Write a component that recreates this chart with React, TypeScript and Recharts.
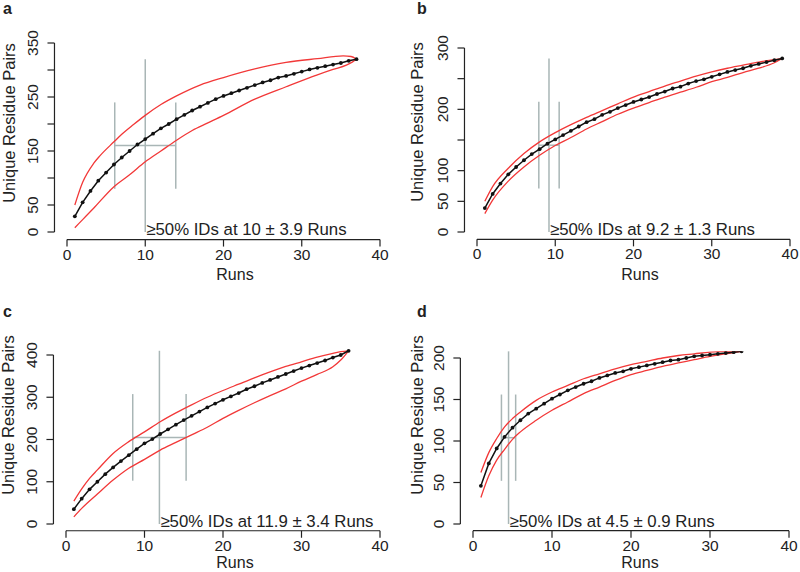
import { LineChart, Line, XAxis, YAxis, ReferenceLine, Label } from "recharts";

// mean curves, one value per run (run = index + 1)
const meanA = [29, 55, 76, 95, 110, 125, 138, 150, 162, 172, 182, 192, 200, 209, 217, 225, 232, 239, 246, 252, 257, 262, 267, 272, 277, 281, 286, 289, 293, 297, 301, 304, 307, 310, 313, 317, 320];
const meanB = [39, 62, 79, 94, 106, 117, 127, 135, 144, 151, 158, 165, 172, 179, 184, 191, 196, 202, 207, 212, 216, 220, 225, 229, 234, 237, 242, 246, 249, 253, 257, 261, 264, 267, 271, 274, 277, 280, 283];
const meanC = [35, 60, 82, 100, 118, 134, 149, 163, 177, 191, 201, 213, 224, 235, 246, 256, 266, 276, 285, 294, 302, 310, 319, 326, 334, 341, 348, 355, 362, 369, 375, 381, 387, 394, 400, 410];
const meanD = [46, 73, 91, 105, 116, 125, 133, 139, 145, 151, 156, 161, 165, 169, 172, 176, 179, 182, 184, 187, 189, 191, 193, 195, 197, 198, 200, 202, 203, 204, 205, 206, 207, 208];

// red envelopes, [run, pairs]
const upperA = [[1, 50], [2, 92], [3.4, 127], [4.2, 141], [6, 167], [7, 181], [8.5, 199], [10, 216], [12, 236], [14, 252], [17, 272], [20, 286], [24, 302], [28, 314], [32, 321], [35.3, 326], [36.3, 325], [37, 320]];
const lowerA = [[1, 8], [2, 23], [3.4, 44], [6, 84], [8, 106], [10, 130], [12, 150], [14, 170], [16, 188], [18, 202], [20, 216], [24, 246], [28, 269], [32, 291], [34, 301], [35.7, 309], [36.5, 315], [37, 320]];
const upperB = [[1, 50], [2, 74], [4, 104], [6, 128], [8, 147], [10, 162], [12, 175], [14, 187], [16, 198], [18, 209], [20, 220], [22, 229], [24, 238], [26, 246], [28, 254], [30, 261], [32, 267], [34, 272], [36, 277], [38, 281], [39, 283]];
const lowerB = [[1, 30], [2, 52], [4, 83], [6, 106], [8, 125], [10, 141], [12, 154], [14, 168], [16, 180], [18, 192], [20, 202], [22, 211], [24, 220], [26, 228], [28, 236], [30, 245], [32, 252], [34, 260], [36, 267], [38, 276], [39, 283]];
const upperC = [[1, 54], [2, 83], [3, 108], [4, 128], [6, 167], [8, 195], [10, 218], [12, 242], [14, 263], [16, 282], [18, 300], [20, 316], [22, 331], [24, 346], [26, 360], [28, 373], [30, 384], [32, 395], [34, 404], [35, 408], [36, 410]];
const lowerC = [[1, 17], [2, 37], [4, 71], [6, 104], [8, 132], [10, 153], [12, 175], [14, 193], [16, 211], [18, 229], [20, 250], [22, 269], [24, 287], [26, 304], [28, 320], [30, 338], [32, 354], [34, 372], [35, 388], [36, 410]];
const upperD = [[1, 62], [2, 86], [3, 103], [4, 117], [5, 127], [6, 135], [8, 149], [10, 159], [12, 167], [14, 175], [16, 181], [18, 187], [20, 192], [22, 196], [24, 200], [26, 203], [28, 205], [30, 207], [32, 208], [34, 208]];
const lowerD = [[1, 32], [2, 58], [3, 77], [4, 90], [5, 102], [6, 111], [8, 125], [10, 137], [12, 147], [14, 157], [16, 165], [18, 173], [20, 180], [22, 185], [24, 190], [26, 194], [28, 198], [30, 202], [32, 205], [34, 208]];

const letters = ["a", "b", "c", "d"];
const medianRuns = [10, 9.2, 11.9, 4.5];
const spreadRuns = [3.9, 1.3, 3.4, 0.9];
const maxPairs = [320, 283, 410, 208];
const xTicks = [0, 10, 20, 30, 40];
const yTicks = [
  [0, 50, 100, 150, 200, 250, 300, 350],
  [0, 50, 100, 150, 200, 250, 300],
  [0, 100, 200, 300, 400],
  [0, 50, 100, 150, 200],
];
const yShown = [
  [0, 50, 150, 250, 350],
  [0, 50, 100, 200, 300],
  [0, 100, 200, 300, 400],
  [0, 50, 100, 150, 200],
];

const means = [meanA, meanB, meanC, meanD];
const uppers = [upperA, upperB, upperC, upperD];
const lowers = [lowerA, lowerB, lowerC, lowerD];

// where each panel sits on the page
const boxes = [
  { left: 0, top: 0, width: 410, height: 285, x0: 67, x40: 380, y0: 232, yTop: 43 },
  { left: 400, top: 0, width: 410, height: 285, x0: 477, x40: 790, y0: 232, yTop: 48 },
  { left: 0, top: 285, width: 410, height: 287, x0: 66, x40: 380, y0: 524, yTop: 355 },
  { left: 400, top: 285, width: 410, height: 287, x0: 473, x40: 789, y0: 524, yTop: 358 },
];
const titles = [
  { letter: [3, 14], ylab: [15, 123], xlab: [235, 280] },
  { letter: [417, 14], ylab: [423, 122], xlab: [640, 280] },
  { letter: [3, 317], ylab: [14, 415], xlab: [235, 568] },
  { letter: [417, 317], ylab: [423, 415], xlab: [640, 568] },
];

const FONT = "'Liberation Sans', Arial, sans-serif";
const INK = "#222";
const RED = "#f23838";
const GREY = "#a9b6b6";
const Y_W = 30;
const X_H = 30;

const toPts = (arr: number[][]) => arr.map(([x, y]) => ({ x, y }));

function YTick(props: any) {
  const { x, y, payload, shown } = props;
  if (!shown.includes(payload.value)) return <g />;
  return (
    <text x={x} y={y} transform={`rotate(-90 ${x} ${y})`} textAnchor="middle" fontSize={15.5} fill={INK} fontFamily={FONT}>
      {payload.value}
    </text>
  );
}

function Panel({ i }: { i: number }) {
  const b = boxes[i];
  const ticks = yTicks[i];
  const yMax = ticks[ticks.length - 1];
  const xs = (b.x40 - b.x0) / 40;
  const ys = (b.y0 - b.yTop) / yMax;
  const plotLeft = b.x0 - 1.6 * xs - b.left;
  const plotRight = b.x0 + 41.6 * xs - b.left;
  const plotTop = b.y0 - 1.04 * yMax * ys - b.top;
  const plotBottom = b.y0 + 0.04 * yMax * ys - b.top;
  const margin = {
    left: plotLeft - Y_W,
    right: b.width - plotRight,
    top: plotTop,
    bottom: b.height - plotBottom - X_H,
  };
  const yMin = -0.04 * yMax;
  const m = medianRuns[i];
  const s = spreadRuns[i];
  const top = maxPairs[i];
  const mean = means[i].map((y, k) => ({ x: k + 1, y }));
  const note = `≥50% IDs at ${m} ± ${s} Runs`;

  return (
    <div style={{ position: "absolute", left: b.left, top: b.top }}>
      <LineChart width={b.width} height={b.height} margin={margin}>
        <XAxis
          type="number"
          dataKey="x"
          domain={[-1.6, 41.6]}
          ticks={xTicks}
          allowDataOverflow
          height={X_H}
          axisLine={false}
          tickSize={7}
          tickMargin={2}
          tickLine={{ stroke: INK, strokeWidth: 1.2 }}
          tick={{ fontSize: 15.5, fill: INK, fontFamily: FONT }}
          interval={0}
        />
        <YAxis
          type="number"
          dataKey="y"
          domain={[yMin, yMax * 1.04]}
          ticks={ticks}
          allowDataOverflow
          width={Y_W}
          axisLine={false}
          tickSize={7}
          tickMargin={9}
          tickLine={{ stroke: INK, strokeWidth: 1.2 }}
          tick={<YTick shown={yShown[i]} />}
          interval={0}
        />
        <ReferenceLine segment={[{ x: 0, y: yMin }, { x: 40, y: yMin }]} stroke={INK} strokeWidth={1.2} ifOverflow="visible" />
        <ReferenceLine segment={[{ x: -1.6, y: 0 }, { x: -1.6, y: yMax }]} stroke={INK} strokeWidth={1.2} ifOverflow="visible" />
        <ReferenceLine segment={[{ x: m - s, y: top * 0.25 }, { x: m - s, y: top * 0.75 }]} stroke={GREY} strokeWidth={1.5} ifOverflow="visible" />
        <ReferenceLine segment={[{ x: m + s, y: top * 0.25 }, { x: m + s, y: top * 0.75 }]} stroke={GREY} strokeWidth={1.5} ifOverflow="visible" />
        <ReferenceLine segment={[{ x: m - s, y: top * 0.5 }, { x: m + s, y: top * 0.5 }]} stroke={GREY} strokeWidth={1.5} ifOverflow="visible" />
        <ReferenceLine segment={[{ x: m, y: 0 }, { x: m, y: top }]} stroke={GREY} strokeWidth={1.5} ifOverflow="visible">
          <Label
            content={(p: any) => {
              const vb = p.viewBox || {};
              return (
                <text x={vb.x + 1} y={vb.y + vb.height + 3} fontSize={16.8} fill={INK} fontFamily={FONT}>
                  {note}
                </text>
              );
            }}
          />
        </ReferenceLine>
        <Line data={toPts(uppers[i])} dataKey="y" type="monotone" stroke={RED} strokeWidth={1.3} dot={false} isAnimationActive={false} />
        <Line data={toPts(lowers[i])} dataKey="y" type="monotone" stroke={RED} strokeWidth={1.3} dot={false} isAnimationActive={false} />
        <Line
          data={mean}
          dataKey="y"
          type="linear"
          stroke="#111"
          strokeWidth={1.5}
          dot={{ r: 1.9, fill: "#111", stroke: "#111", strokeWidth: 0 }}
          isAnimationActive={false}
        />
      </LineChart>
    </div>
  );
}

export default function App() {
  return (
    <div style={{ position: "absolute", left: 0, top: 0, width: 800, height: 572, overflow: "hidden", background: "#fff", fontFamily: FONT }}>
      {letters.map((_, i) => (
        <Panel key={i} i={i} />
      ))}
      <svg width={800} height={572} style={{ position: "absolute", left: 0, top: 0, pointerEvents: "none" }}>
        {titles.map((t, i) => (
          <g key={i} fontFamily={FONT} fill={INK}>
            <text x={t.letter[0]} y={t.letter[1]} fontSize={16} fontWeight="bold">
              {letters[i]}
            </text>
            <text
              x={t.ylab[0]}
              y={t.ylab[1]}
              fontSize={16.5}
              textAnchor="middle"
              transform={`rotate(-90 ${t.ylab[0]} ${t.ylab[1]})`}
            >
              Unique Residue Pairs
            </text>
            <text x={t.xlab[0]} y={t.xlab[1]} fontSize={16} textAnchor="middle">
              Runs
            </text>
          </g>
        ))}
      </svg>
    </div>
  );
}
